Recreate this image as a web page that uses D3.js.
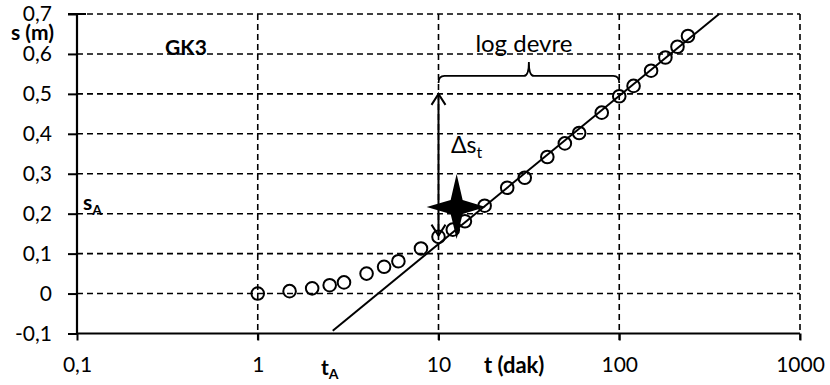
<!DOCTYPE html>
<html>
<head>
<meta charset="utf-8">
<script src="https://cdn.jsdelivr.net/npm/d3@7"></script>
<style>
  body { margin: 0; background: #fff; }
  svg text { font-family: Lato, "Open Sans", sans-serif; fill: #000; }
</style>
</head>
<body>
<script>
// pumping test GK3 - drawdown vs time (semi-log)
const timeMin = [1, 1.5, 2, 2.5, 3, 4, 5, 6, 8, 10, 12, 14, 18, 24, 30, 40, 50, 60, 80, 100, 120, 150, 180, 210, 240];
const drawdown = [0, 0.006, 0.013, 0.021, 0.028, 0.05, 0.067, 0.081, 0.113, 0.142, 0.16, 0.181, 0.22, 0.265, 0.29, 0.342, 0.376, 0.402, 0.453, 0.494, 0.52, 0.558, 0.591, 0.618, 0.645];

const fitT = [2.6, 357];
const fitS = [-0.093, 0.7];

const xTicks = [0.1, 1, 10, 100, 1000];
const xLabels = ["0,1", "1", "10", "100", "1000"];
const yTicks = [-0.1, 0, 0.1, 0.2, 0.3, 0.4, 0.5, 0.6, 0.7];
const yLabels = ["-0,1", "0", "0,1", "0,2", "0,3", "0,4", "0,5", "0,6", "0,7"];

const cycleFrom = 10, cycleTo = 100;   // log devre
const deltaTop = 0.5, deltaBottom = 0.145;
const braceS = 0.545, braceTipS = 0.58;
const starT = 12.6, starS = 0.217;

const W = 830, H = 385;
const x = d3.scaleLog().domain([0.1, 1000]).range([77, 800]);
const y = d3.scaleLinear().domain([-0.1, 0.7]).range([333.5, 14]);

const svg = d3.select("body").append("svg")
  .attr("width", W)
  .attr("height", H);

// dashed grid
const grid = svg.append("g")
  .attr("stroke", "#000")
  .attr("stroke-width", 1.6)
  .attr("stroke-dasharray", "6,4");

grid.selectAll("line.h")
  .data(yTicks.filter(d => d > -0.1))
  .enter().append("line")
  .attr("x1", x(0.1)).attr("x2", x(1000))
  .attr("y1", d => y(d)).attr("y2", d => y(d));

grid.selectAll("line.v")
  .data(xTicks.slice(1))
  .enter().append("line")
  .attr("x1", d => x(d)).attr("x2", d => x(d))
  .attr("y1", y(0.7)).attr("y2", y(-0.1) + 7);

// axes
const xAxis = d3.axisBottom(x)
  .tickValues(xTicks)
  .tickFormat((d, i) => xLabels[i])
  .tickSize(7)
  .tickPadding(17);

svg.append("g")
  .attr("transform", `translate(0,${y(-0.1)})`)
  .call(xAxis)
  .call(g => g.select(".domain").attr("stroke-width", 2.2).attr("d", `M${x(0.1)},0H${x(1000)}`))
  .call(g => g.selectAll(".tick line").attr("stroke-width", 2))
  .call(g => g.selectAll(".tick text").attr("font-size", 21).attr("font-family", "Lato"));

const yAxis = d3.axisLeft(y)
  .tickValues(yTicks)
  .tickFormat((d, i) => yLabels[i])
  .tickSize(9)
  .tickPadding(16);

svg.append("g")
  .attr("transform", `translate(${x(0.1)},0)`)
  .call(yAxis)
  .call(g => g.select(".domain").attr("stroke-width", 2.2).attr("d", `M0,${y(0.7)}V${y(-0.1)}`))
  .call(g => g.selectAll(".tick line").attr("stroke-width", 2).attr("x2", -9))
  .call(g => g.selectAll(".tick text").attr("font-size", 21).attr("font-family", "Lato"));

// cap at top of y axis
svg.append("line")
  .attr("x1", x(0.1) - 9).attr("x2", x(0.1) + 9)
  .attr("y1", y(0.7)).attr("y2", y(0.7))
  .attr("stroke", "#000").attr("stroke-width", 2);

// straight-line fit
svg.append("path")
  .datum(fitT.map((t, i) => [t, fitS[i]]))
  .attr("fill", "none")
  .attr("stroke", "#000")
  .attr("stroke-width", 2)
  .attr("d", d3.line().x(d => x(d[0])).y(d => y(d[1])));

// measured points
svg.append("g")
  .selectAll("circle")
  .data(timeMin.map((t, i) => [t, drawdown[i]]))
  .enter().append("circle")
  .attr("cx", d => x(d[0]))
  .attr("cy", d => y(d[1]))
  .attr("r", 6.3)
  .attr("fill", "none")
  .attr("stroke", "#000")
  .attr("stroke-width", 2);

// delta s arrow
const ax = x(cycleFrom);
svg.append("line")
  .attr("x1", ax).attr("x2", ax)
  .attr("y1", y(deltaTop)).attr("y2", y(deltaBottom))
  .attr("stroke", "#000").attr("stroke-width", 2);
const head = 11;
svg.append("path")
  .attr("d", `M${ax - 7},${y(deltaTop) + head}L${ax},${y(deltaTop)}L${ax + 7},${y(deltaTop) + head}` +
             `M${ax - 7},${y(deltaBottom) - head}L${ax},${y(deltaBottom)}L${ax + 7},${y(deltaBottom) - head}`)
  .attr("fill", "none").attr("stroke", "#000").attr("stroke-width", 2);

// brace over one log cycle
const bx1 = x(cycleFrom), bx2 = x(cycleTo), bm = x(Math.sqrt(cycleFrom * cycleTo));
const by = y(braceS), bt = y(braceTipS);
svg.append("path")
  .attr("d", `M${bx1},${by + 7}Q${bx1},${by} ${bx1 + 6},${by}L${bm - 5},${by}` +
             `Q${bm},${by} ${bm},${bt}Q${bm},${by} ${bm + 5},${by}L${bx2 - 6},${by}Q${bx2},${by} ${bx2},${by + 7}`)
  .attr("fill", "none").attr("stroke", "#000").attr("stroke-width", 1.8);

svg.append("text")
  .attr("x", bm - 5).attr("y", 52)
  .attr("text-anchor", "middle")
  .attr("font-size", 24)
  .text("log devre");

// four-pointed star
const sx = x(starT), sy = y(starS);
const star = [[0, -33], [6, -7], [29, 0], [6, 7], [0, 32], [-6, 7], [-30, 0], [-6, -7]];
svg.append("path")
  .attr("d", d3.line().curve(d3.curveLinearClosed)(star.map(p => [sx + p[0], sy + p[1]])))
  .attr("fill", "#000");

// labels
const dt = svg.append("text")
  .attr("x", 451).attr("y", 153)
  .attr("font-size", 23);
dt.append("tspan").text("Δs");
dt.append("tspan").attr("font-size", 16).attr("dy", 5).text("t");

svg.append("text")
  .attr("x", 11).attr("y", 40)
  .attr("font-size", 21).attr("font-weight", "bold")
  .text("s (m)");

svg.append("text")
  .attr("x", 165).attr("y", 55)
  .attr("font-size", 21).attr("font-weight", "bold")
  .text("GK3");

const sa = svg.append("text")
  .attr("x", 83).attr("y", 210)
  .attr("font-size", 21).attr("font-weight", "bold");
sa.append("tspan").text("s");
sa.append("tspan").attr("font-size", 14).attr("dy", 5).text("A");

const ta = svg.append("text")
  .attr("x", 321).attr("y", 375)
  .attr("font-size", 21).attr("font-weight", "bold");
ta.append("tspan").text("t");
ta.append("tspan").attr("font-size", 14).attr("dy", 4).text("A");

svg.append("text")
  .attr("x", 484).attr("y", 373)
  .attr("font-size", 22).attr("font-weight", "bold")
  .text("t (dak)");
</script>
</body>
</html>
